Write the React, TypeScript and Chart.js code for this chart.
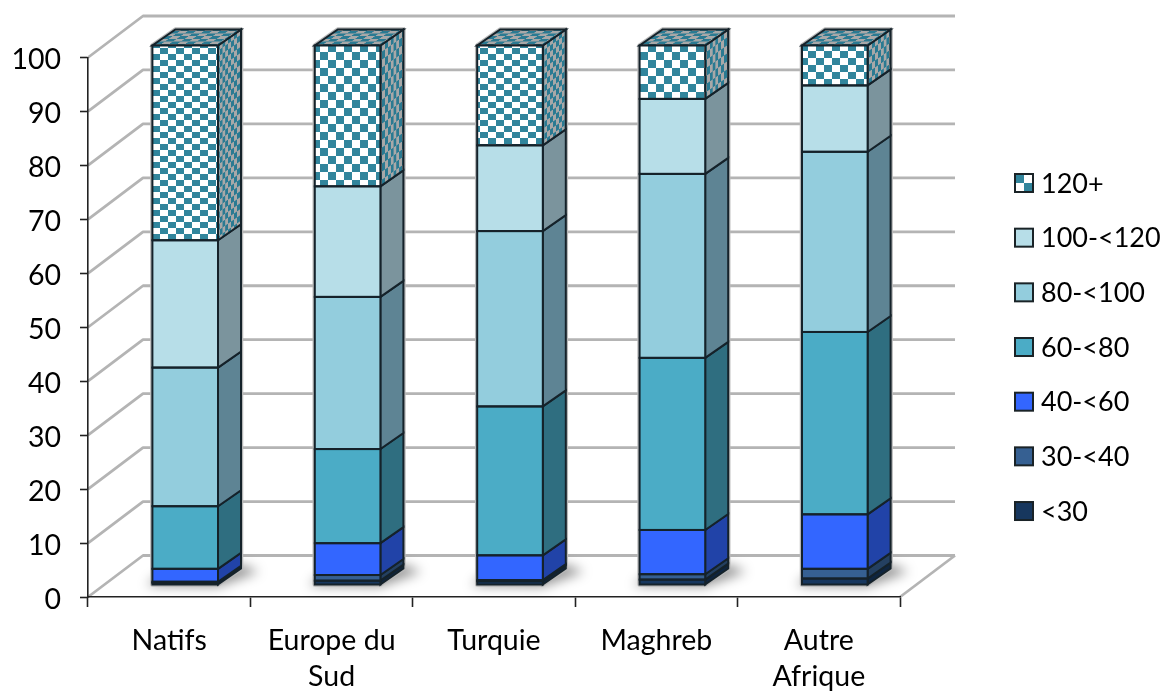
import React, { useEffect, useRef } from "react";
import { Chart, registerables } from "chart.js";

Chart.register(...registerables);

const categories = ["Natifs", ["Europe du", "Sud"], "Turquie", "Maghreb", ["Autre", "Afrique"]];

const under30 = [0.4, 0.8, 0.7, 1.0, 1.2];
const from30to40 = [0.2, 1.05, 0.2, 1.0, 1.8];
const from40to60 = [2.4, 5.9, 4.6, 8.2, 10.1];
const from60to80 = [11.6, 17.45, 27.6, 31.9, 33.8];
const from80to100 = [25.7, 28.2, 32.5, 34.1, 33.4];
const from100to120 = [23.6, 20.5, 15.9, 13.9, 12.3];
const over120 = [36.1, 26.1, 18.5, 9.9, 7.4];

const seriesNames = ["<30", "30-<40", "40-<60", "60-<80", "80-<100", "100-<120", "120+"];
const seriesValues = [under30, from30to40, from40to60, from60to80, from80to100, from100to120, over120];
const seriesColors = ["#17375e", "#366092", "#3366ff", "#4bacc6", "#93cddd", "#b7dee8", "#31859c"];
const sideColors = ["#0f2540", "#244061", "#2143a8", "#2f6e80", "#5e8494", "#7b949d", "#2a7a92"];

// Checker cell height per column of the top series (each column stretches its fill differently).
const checkerHeights = [6, 8, 6, 8, 7];
const CHECKER_W = 8;

const FONT = "Lato, 'Open Sans', sans-serif";
const AXIS_FONT_SIZE = 28.5;
const LEGEND_FONT_SIZE = 27;

// Depth of the floor and walls, and of each column, in pixels.
const WALL_DX = 55;
const WALL_DY = -41.5;
const BAR_SHIFT_X = 16;
const BAR_SHIFT_Y = -12;
const BAR_DX = 23;
const BAR_DY = -16;
const EDGE = "#15222a";
const EDGE_WIDTH = 2;

function checker(ctx: CanvasRenderingContext2D, light: string, dark: string, w: number, h: number) {
  const c = document.createElement("canvas");
  c.width = w * 2;
  c.height = h * 2;
  const g = c.getContext("2d")!;
  g.fillStyle = light;
  g.fillRect(0, 0, w * 2, h * 2);
  g.fillStyle = dark;
  g.fillRect(0, 0, w, h);
  g.fillRect(w, h, w, h);
  return ctx.createPattern(c, "repeat")!;
}

function poly(ctx: CanvasRenderingContext2D, pts: number[][]) {
  ctx.beginPath();
  pts.forEach(([x, y], i) => (i ? ctx.lineTo(x, y) : ctx.moveTo(x, y)));
  ctx.closePath();
}

const wallsPlugin = {
  id: "walls",
  beforeDraw(chart: any) {
    const { ctx, chartArea: a, scales } = chart;
    ctx.save();
    ctx.strokeStyle = "#b4b4b4";
    ctx.lineWidth = 2.8;
    ctx.lineJoin = "round";
    for (const t of scales.y.ticks) {
      const y = scales.y.getPixelForValue(t.value);
      ctx.beginPath();
      ctx.moveTo(a.left, y);
      ctx.lineTo(a.left + WALL_DX, y + WALL_DY);
      ctx.lineTo(a.right + WALL_DX, y + WALL_DY);
      ctx.stroke();
    }
    ctx.beginPath();
    ctx.moveTo(a.right + WALL_DX, a.bottom + WALL_DY);
    ctx.lineTo(a.right, a.bottom);
    ctx.stroke();
    ctx.restore();
  },
};

const columnsPlugin = {
  id: "columns",
  beforeDatasetsDraw(chart: any) {
    const { ctx, data } = chart;
    const top = data.datasets.length - 1;
    ctx.save();
    ctx.translate(BAR_SHIFT_X, BAR_SHIFT_Y);

    chart.getDatasetMeta(0).data.forEach((first: any, col: number) => {
      const left = first.x - first.width / 2;
      const right = first.x + first.width / 2;
      const base = first.base;
      const crown = chart.getDatasetMeta(top).data[col].y;

      // Soft shadow on the floor.
      ctx.save();
      ctx.filter = "blur(6px)";
      ctx.fillStyle = "rgba(0,0,0,0.42)";
      poly(ctx, [
        [left - 6, base + 1],
        [right, base + 2],
        [right + BAR_DX + 18, base + BAR_DY + 3],
        [right + BAR_DX, base + BAR_DY - 4],
        [left + 5, base - 8],
      ]);
      ctx.fill();
      ctx.restore();

      // Pale halo round the whole block.
      ctx.strokeStyle = "#b8b8b8";
      ctx.lineWidth = 4.5;
      ctx.lineJoin = "round";
      poly(ctx, [
        [left, base],
        [right, base],
        [right + BAR_DX, base + BAR_DY],
        [right + BAR_DX, crown + BAR_DY],
        [left + BAR_DX, crown + BAR_DY],
        [left, crown],
      ]);
      ctx.stroke();

      ctx.lineWidth = EDGE_WIDTH;
      ctx.strokeStyle = EDGE;
      ctx.lineJoin = "miter";

      // Side face of every segment, bottom to top.
      data.datasets.forEach((ds: any, d: number) => {
        const bar = chart.getDatasetMeta(d).data[col];
        let fill: any = sideColors[d];
        if (d === top) {
          const p = checker(ctx, "#a8a8a8", sideColors[d], CHECKER_W, checkerHeights[col]);
          p.setTransform(
            new DOMMatrix([BAR_DX / 64, BAR_DY / 64, 0, 1, right + BAR_SHIFT_X, bar.y + BAR_SHIFT_Y])
          );
          fill = p;
        }
        ctx.fillStyle = fill;
        poly(ctx, [
          [right, bar.base],
          [right + BAR_DX, bar.base + BAR_DY],
          [right + BAR_DX, bar.y + BAR_DY],
          [right, bar.y],
        ]);
        ctx.fill();
        ctx.stroke();
      });

      // Lid of the column.
      const lid = checker(ctx, "#a8a8a8", sideColors[top], CHECKER_W, 7);
      lid.setTransform(
        new DOMMatrix([1, 0, BAR_DX / 42, BAR_DY / 42, left + BAR_SHIFT_X, crown + BAR_SHIFT_Y])
      );
      ctx.fillStyle = lid;
      poly(ctx, [
        [left, crown],
        [right, crown],
        [right + BAR_DX, crown + BAR_DY],
        [left + BAR_DX, crown + BAR_DY],
      ]);
      ctx.fill();
      ctx.stroke();
    });
    // Front faces are drawn by the library inside this same shift.
  },
  afterDatasetsDraw(chart: any) {
    const { ctx } = chart;
    // Even outline round each front segment, so shared edges keep one weight.
    ctx.lineWidth = EDGE_WIDTH;
    ctx.strokeStyle = EDGE;
    chart.data.datasets.forEach((_: any, d: number) => {
      chart.getDatasetMeta(d).data.forEach((bar: any) => {
        ctx.strokeRect(bar.x - bar.width / 2, bar.y, bar.width, bar.base - bar.y);
      });
    });
    ctx.restore();
  },
};

const legendPlugin = {
  id: "stackLegend",
  afterDraw(chart: any) {
    const { ctx, data } = chart;
    const names = data.datasets.map((d: any) => d.label).reverse();
    const boxX = 1015;
    const box = 18;
    const firstY = 183;
    const step = 54.67;
    ctx.save();
    ctx.font = `${LEGEND_FONT_SIZE}px ${FONT}`;
    ctx.textBaseline = "middle";
    ctx.textAlign = "left";
    names.forEach((name: string, i: number) => {
      const idx = names.length - 1 - i;
      const cy = firstY + i * step;
      const x = boxX;
      const y = cy - box / 2;
      if (idx === names.length - 1) {
        ctx.fillStyle = "#ffffff";
        ctx.fillRect(x, y, box, box);
        ctx.fillStyle = seriesColors[idx];
        ctx.fillRect(x, y, box / 2, box / 2);
        ctx.fillRect(x + box / 2, y + box / 2, box / 2, box / 2);
      } else {
        ctx.fillStyle = seriesColors[idx];
        ctx.fillRect(x, y, box, box);
      }
      ctx.strokeStyle = "#1a2327";
      ctx.lineWidth = 2;
      ctx.strokeRect(x, y, box, box);
      ctx.fillStyle = "#000000";
      ctx.fillText(name, 1041, cy + 1);
    });
    ctx.restore();
  },
};

export default function App() {
  const ref = useRef<HTMLCanvasElement | null>(null);

  useEffect(() => {
    const canvas = ref.current!;
    const ctx = canvas.getContext("2d")!;
    const chart = new Chart(canvas, {
      type: "bar",
      data: {
        labels: categories as any,
        datasets: seriesNames.map((label, i) => ({
          label,
          data: seriesValues[i],
          backgroundColor:
            i === seriesNames.length - 1
              ? checkerHeights.map((h) => checker(ctx, "#ffffff", seriesColors[i], CHECKER_W, h))
              : seriesColors[i],
          borderWidth: 0,
          clip: false as any,
          barPercentage: 0.404,
          categoryPercentage: 1,
        })),
      },
      options: {
        responsive: false,
        animation: false,
        layout: { padding: { top: 57.5, right: 267, left: 0, bottom: 0 } },
        plugins: { legend: { display: false }, tooltip: { enabled: false } },
        scales: {
          x: {
            stacked: true,
            afterFit: (s: any) => {
              s.height = 95;
            },
            grid: {
              offset: true,
              drawOnChartArea: false,
              drawTicks: true,
              tickLength: 10,
              tickColor: "#222222",
              tickWidth: 1.6,
            },
            border: { display: true, color: "#222222", width: 1.6 },
            ticks: {
              color: "#000000",
              padding: 16,
              maxRotation: 0,
              autoSkip: false,
              font: { family: FONT, size: AXIS_FONT_SIZE, lineHeight: 1.27 },
            },
          },
          y: {
            stacked: true,
            min: 0,
            max: 100,
            afterFit: (s: any) => {
              s.width = 88;
            },
            grid: {
              drawOnChartArea: false,
              drawTicks: true,
              tickLength: 8,
              tickColor: "#222222",
              tickWidth: 1.6,
            },
            border: { display: true, color: "#222222", width: 1.6 },
            ticks: {
              stepSize: 10,
              color: "#000000",
              padding: 19,
              labelOffset: 2.5,
              font: { family: FONT, size: AXIS_FONT_SIZE },
            },
          },
        },
      },
      plugins: [wallsPlugin, columnsPlugin, legendPlugin],
    } as any);
    return () => chart.destroy();
  }, []);

  return (
    <canvas
      ref={ref}
      width={1167}
      height={692}
      style={{ position: "absolute", left: 0, top: 0, display: "block" }}
    />
  );
}
